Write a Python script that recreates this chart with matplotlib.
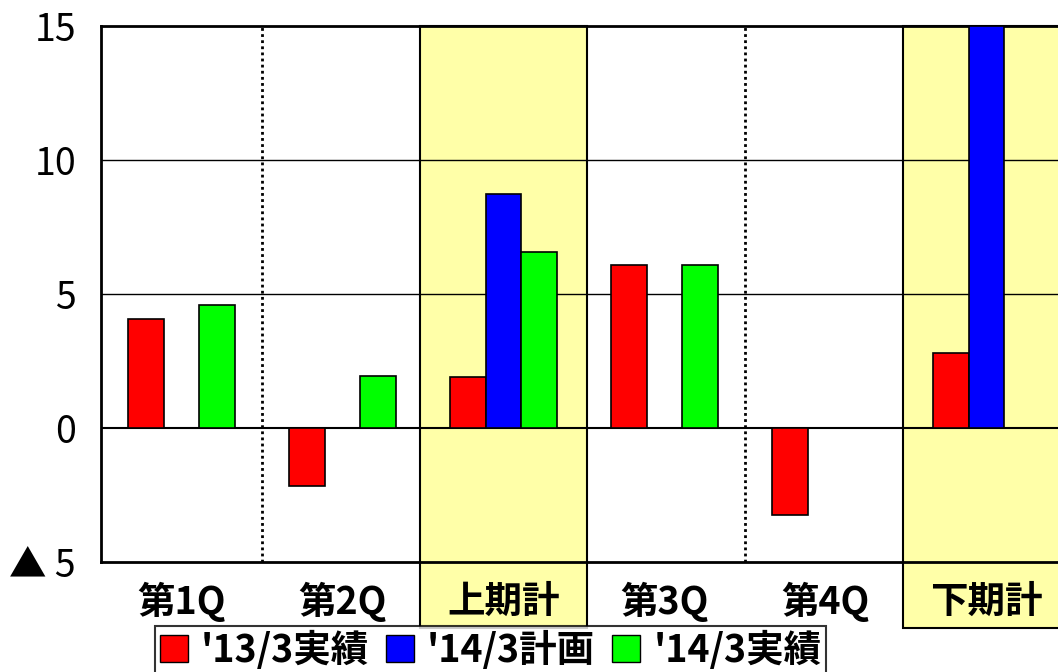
import matplotlib.pyplot as plt
from matplotlib.patches import Rectangle, Patch

plt.rcParams['font.family'] = ['Noto Sans CJK JP', 'DejaVu Sans']

categories = ['第1Q', '第2Q', '上期計', '第3Q', '第4Q', '下期計']
series_names = ["'13/3実績", "'14/3計画", "'14/3実績"]
actual_13 = [4.05, -2.15, 1.9, 6.1, -3.25, 2.8]
plan_14 = [None, None, 8.75, None, None, 15.0]
actual_14 = [4.6, 1.95, 6.55, 6.1, None, None]
colors = ['#ff0000', '#0000ff', '#00ff00']
y_ticks = [-5, 0, 5, 10, 15]
y_labels = ['▲ 5', '0', '5', '10', '15']
shaded = [2, 5]

fig = plt.figure(figsize=(10.58, 6.72), dpi=100)
ax = fig.add_axes([101 / 1058, 1 - 562 / 672, 966 / 1058, 536 / 672])

ax.set_xlim(0, 6)
ax.set_ylim(-5, 15)

# shaded total columns, running down past the labels
for i in shaded:
    ax.add_patch(Rectangle((i - 0.02, -7.45), 1.04, 22.45, facecolor='#ffffa8',
                           edgecolor='black', lw=1.5, clip_on=False, zorder=0.5))

for y in [5, 10]:
    ax.axhline(y, color='black', lw=1, zorder=1)
ax.axhline(0, color='black', lw=1.5, zorder=1)
for x in [1, 4]:
    ax.plot([x, x], [-5, 15], color='black', lw=2, ls=(0, (1, 1.2)), zorder=1)

w = 0.22
offsets = [-w, 0, w]
for vals, off, c in zip([actual_13, plan_14, actual_14], offsets, colors):
    for i, v in enumerate(vals):
        if v is None:
            continue
        ax.bar(i + 0.5 + off, v, width=w, color=c, edgecolor='black',
               lw=1.2, zorder=3)

ax.set_yticks(y_ticks)
ax.set_yticklabels(y_labels, fontsize=27)
ax.set_xticks([i + 0.5 for i in range(6)])
ax.set_xticklabels(categories, fontsize=27, fontweight='bold')
ax.tick_params(axis='both', length=0)
ax.tick_params(axis='y', pad=18)
ax.tick_params(axis='x', pad=14)

for s in ['top', 'left', 'bottom']:
    ax.spines[s].set_linewidth(2)
ax.spines['right'].set_visible(False)

handles = [Patch(facecolor=c, edgecolor='black', lw=1) for c in colors]
leg = fig.legend(handles, series_names, loc='upper left',
                 bbox_to_anchor=(155 / 1058, 1 - 626 / 672), ncol=3,
                 fontsize=27, frameon=True, fancybox=False, borderpad=0.12,
                 handlelength=0.75, handleheight=0.75, handletextpad=0.35,
                 columnspacing=0.45, borderaxespad=0)
leg.get_frame().set_edgecolor('black')
leg.get_frame().set_linewidth(1.5)
for t in leg.get_texts():
    t.set_fontweight('bold')

fig.savefig('out.png', dpi=100)
